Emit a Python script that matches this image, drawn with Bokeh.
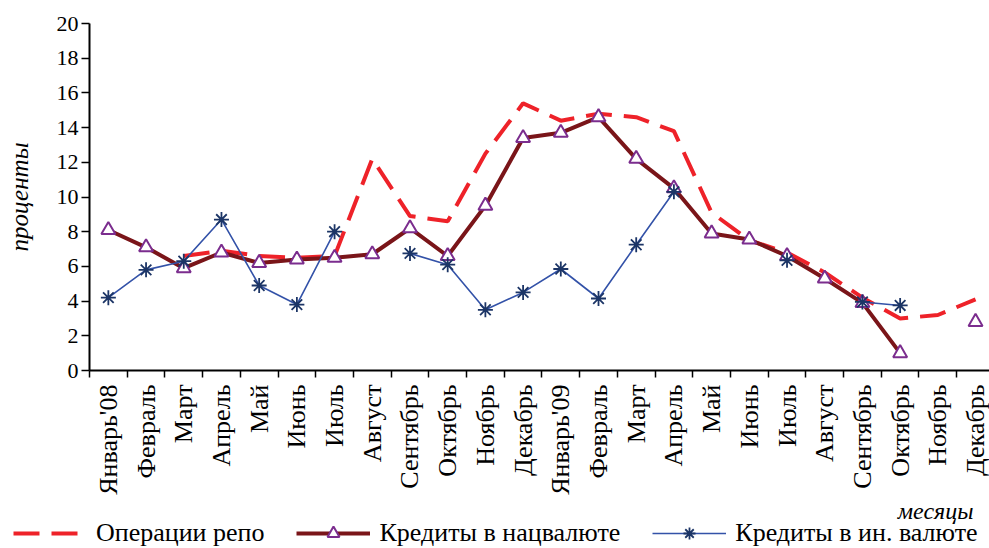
import math
from bokeh.plotting import figure
from bokeh.layouts import column
from bokeh.models import (Range1d, LinearAxis, FixedTicker, Legend, LegendItem, Label)
from bokeh.embed import file_html
from bokeh.resources import INLINE

nan = float("nan")

months = ["Январь'08", "Февраль", "Март", "Апрель", "Май", "Июнь", "Июль", "Август",
          "Сентябрь", "Октябрь", "Ноябрь", "Декабрь", "Январь'09", "Февраль", "Март",
          "Апрель", "Май", "Июнь", "Июль", "Август", "Сентябрь", "Октябрь", "Ноябрь", "Декабрь"]

repo = [nan, nan, 6.6, 6.9, 6.6, 6.5, 6.6, 12.2, 8.9, 8.6, 12.5, 15.4,
        14.4, 14.8, 14.6, 13.8, 9.1, 7.5, 6.8, 5.65, 4.2, 3.0, 3.2, 4.1]
nat_cur = [8.1, 7.1, 5.9, 6.8, 6.2, 6.4, 6.5, 6.7, 8.2, 6.6, 9.5, 13.4,
           13.7, 14.6, 12.2, 10.5, 7.9, 7.55, 6.6, 5.3, 3.9, 1.0, nan, 2.8]
for_cur = [4.2, 5.8, 6.3, 8.7, 4.9, 3.8, 8.0, nan, 6.75, 6.1, 3.5, 4.5,
           5.85, 4.15, 7.25, 10.3, nan, nan, 6.35, nan, 3.95, 3.75, nan, nan]

y_ticks = [0, 2, 4, 6, 8, 10, 12, 14, 16, 18, 20]
series_names = ["Операции репо", "Кредиты в нацвалюте", "Кредиты в ин. валюте"]

x = list(range(len(months)))
FONT = "Liberation Serif"

REPO_STYLE = dict(line_color="#EE2229", line_width=4, line_dash="26 12")
NAT_LINE = dict(line_color="#7A1519", line_width=4)
NAT_MARK = dict(marker="triangle", size=14, line_color="#7B2D8E", line_width=2, fill_color="white")
FOR_LINE = dict(line_color="#3352A8", line_width=1.6)
FOR_MARK = dict(marker="asterisk", size=15, line_color="#1C3566", line_width=1.8)


def add_series(fig):
    r1 = fig.line(x, repo, **REPO_STYLE)
    r2 = fig.line(x, nat_cur, **NAT_LINE)
    r2m = fig.scatter(x, nat_cur, **NAT_MARK)
    r3 = fig.line(x, for_cur, **FOR_LINE)
    r3m = fig.scatter(x, for_cur, **FOR_MARK)
    return r1, r2, r2m, r3, r3m


p = figure(width=989, height=498, x_range=Range1d(-0.5, 23.37), y_range=Range1d(0, 20),
           output_backend="svg", toolbar_location=None, x_axis_type=None, y_axis_type=None,
           min_border_left=89, min_border_right=0, min_border_top=23, min_border_bottom=128)
p.outline_line_color = None
p.background_fill_color = "white"
p.border_fill_color = "white"
p.frame_align = False

xaxis = LinearAxis(
    ticker=FixedTicker(ticks=x, minor_ticks=[i - 0.5 for i in range(len(months) + 1)]),
    major_label_overrides={i: m for i, m in enumerate(months)},
    major_label_orientation=math.pi / 2,
    major_tick_in=0, major_tick_out=0,
    minor_tick_in=0, minor_tick_out=7,
    minor_tick_line_color="black", minor_tick_line_width=1.5,
    axis_line_color="black", axis_line_width=2,
    major_label_standoff=7,
    major_label_text_font=FONT, major_label_text_font_size="26px",
    major_label_text_color="black",
)
p.add_layout(xaxis, "below")

yaxis = LinearAxis(
    ticker=FixedTicker(ticks=y_ticks),
    major_tick_in=0, major_tick_out=8,
    major_tick_line_color="black", major_tick_line_width=1.5,
    minor_tick_line_color=None,
    axis_line_color="black", axis_line_width=2,
    major_label_standoff=3,
    major_label_text_font=FONT, major_label_text_font_size="22px",
    major_label_text_color="black",
    axis_label="проценты", axis_label_text_font=FONT, axis_label_text_font_size="25px",
    axis_label_text_font_style="italic", axis_label_text_color="black",
    axis_label_standoff=21,
)
p.add_layout(yaxis, "left")

add_series(p)

# Legend strip below the chart (its series lie outside its visible range)
q = figure(width=989, height=50, x_range=Range1d(-0.5, 23.37), y_range=Range1d(100, 101),
           output_backend="svg", toolbar_location=None, x_axis_type=None, y_axis_type=None,
           min_border_left=0, min_border_right=0, min_border_top=0, min_border_bottom=0)
q.outline_line_color = None
q.background_fill_color = "white"
q.border_fill_color = "white"
q.frame_align = False
q.xgrid.visible = False
q.ygrid.visible = False

r1, r2, r2m, r3, r3m = add_series(q)

legend = Legend(items=[
    LegendItem(label=series_names[0], renderers=[r1]),
    LegendItem(label=series_names[1], renderers=[r2, r2m]),
    LegendItem(label=series_names[2], renderers=[r3, r3m]),
], orientation="horizontal", location=(13, 0),
    label_text_font=FONT, label_text_font_size="26px", label_text_color="black",
    glyph_width=74, glyph_height=30, label_standoff=9, spacing=32,
    padding=0, margin=0, border_line_color=None, background_fill_alpha=0)
q.add_layout(legend, "center")

q.add_layout(Label(x=973, y=38, x_units="screen", y_units="screen", text="месяцы",
                   text_align="right", text_baseline="alphabetic", text_font=FONT,
                   text_font_size="24px", text_font_style="italic", text_color="black"))

layout = column(p, q, spacing=0)
open("out.html", "w").write(file_html(layout, INLINE))
